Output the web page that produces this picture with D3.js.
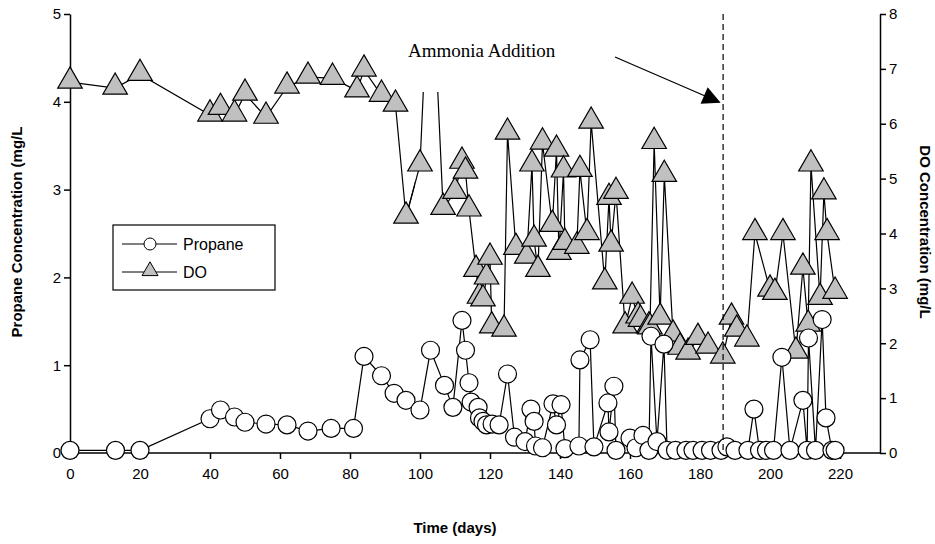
<!DOCTYPE html>
<html><head><meta charset="utf-8">
<script src="https://cdn.jsdelivr.net/npm/d3@7"></script>
<style>body{margin:0;background:#fff}</style></head>
<body><svg id="c" width="935" height="544"></svg>
<script>
const propaneDays = [0,13,20,40,43,47,50,56,62,68,74.6,81,84,89,92.6,96,100,103,107,109.4,112,113,114,114.6,116.6,117,118,119,120.6,122.6,125,127,130,131.7,132.6,133,135,138,139,140.3,141.4,145.4,145.7,148.6,149.7,153.7,154,155.4,156,160,161.7,163.7,165.4,166,167.7,169.7,170.6,173,176,178,180.6,183,186,187.7,190,193.7,195.4,197,199,201,203.4,205.7,209.4,210.6,211,213,214.9,216,217.7,218.6];
const propaneVals = [0.03,0.03,0.03,0.39,0.49,0.41,0.35,0.33,0.32,0.25,0.28,0.28,1.1,0.88,0.68,0.6,0.49,1.17,0.77,0.52,1.51,1.17,0.8,0.58,0.52,0.4,0.36,0.32,0.33,0.32,0.9,0.18,0.13,0.5,0.36,0.08,0.06,0.56,0.32,0.55,0.05,0.08,1.06,1.29,0.07,0.57,0.24,0.76,0.03,0.17,0.06,0.2,0.03,1.33,0.13,1.24,0.03,0.03,0.03,0.03,0.03,0.03,0.03,0.07,0.03,0.03,0.5,0.03,0.03,0.03,1.09,0.03,0.6,0.03,1.31,0.03,1.52,0.4,0.03,0.03];
const doDays = [0,12.9,20,40,43,47,50,56,62,68,75,82,84,89,93,96,100,103,106.6,110,112,113,114,116,117,118,119,120,120.5,124,125,127.4,130.5,132,132.6,133.7,135,137.8,139,139.7,141,141.4,144.8,145.7,147.7,148.9,152.8,154,154.6,156,158.6,160.6,162.3,163,165.4,165.7,166.9,168.6,169.8,172.3,174.3,176.6,179.4,182.3,186.5,189,190.5,193.4,195.7,200,201.4,203.7,207.4,209.4,210.9,211.7,214.3,215.4,216.3,218.6];
const doVals = [6.76,6.65,6.9,6.16,6.28,6.16,6.54,6.12,6.67,6.85,6.83,6.6,6.98,6.52,6.34,4.3,5.25,9.5,4.46,4.75,5.3,5.12,4.43,3.33,2.84,2.79,3.19,3.55,2.3,2.24,5.83,3.73,3.57,5.25,3.88,3.33,5.65,4.15,5.52,3.64,5.14,3.82,3.75,5.15,4.0,6.03,3.1,4.64,3.79,4.75,2.3,2.84,2.48,2.42,2.3,2.28,5.66,2.46,5.06,2.15,1.91,1.82,2.09,1.93,1.75,2.46,2.24,2.06,4.0,2.97,2.91,4.0,1.84,3.37,2.33,5.25,2.82,4.74,4.0,2.93];
const xTicks = d3.range(0, 221, 20);
const additionDay = 186.6;

const svg = d3.select("#c");
const m = {l:70, r:880, t:14, b:453};
const x = d3.scaleLinear().domain([0,220]).range([m.l, m.l+770]);
const yL = d3.scaleLinear().domain([0,5]).range([m.b, m.t]);
const yR = d3.scaleLinear().domain([0,8]).range([m.b, m.t]);
const font = "Arial, 'Liberation Sans', sans-serif";

const gx = svg.append("g").attr("transform",`translate(0,${m.b})`)
  .call(d3.axisBottom(x).tickValues(xTicks).tickSize(6).tickSizeOuter(0));
gx.select(".domain").attr("d", `M${m.l},0H${m.r}`);
const gl = svg.append("g").attr("transform",`translate(${m.l},0)`).call(d3.axisLeft(yL).ticks(5).tickSize(6).tickSizeOuter(0));
const gr = svg.append("g").attr("transform",`translate(${m.r},0)`).call(d3.axisRight(yR).ticks(8).tickSize(6).tickSizeOuter(0));
svg.selectAll(".tick text").attr("font-family",font).attr("font-size",15).attr("fill","#000");
gx.selectAll(".tick text").attr("dy","1.1em");
svg.selectAll(".domain,.tick line").attr("stroke","#000").attr("stroke-width",1.5);

// DO line is cut off above ~y=92 in the original
svg.append("clipPath").attr("id","pc").append("rect").attr("x",0).attr("y",92).attr("width",935).attr("height",400);
svg.append("clipPath").attr("id","pc2").append("rect").attr("x",0).attr("y",0).attr("width",415).attr("height",544);
const plot = svg.append("g");

const doData = doDays.map((d,i)=>[d,doVals[i]]);
const prData = propaneDays.map((d,i)=>[d,propaneVals[i]]);
const doLine = d3.line().x(d=>x(d[0])).y(d=>yR(d[1]));
// draw the part before the spike unclipped, the rest clipped at top
plot.append("path").datum(doData).attr("fill","none").attr("stroke","#000").attr("stroke-width",1.2)
  .attr("clip-path","url(#pc2)").attr("d", doLine);
plot.append("path").datum(doData.slice(15)).attr("fill","none").attr("stroke","#000").attr("stroke-width",1.2)
  .attr("clip-path","url(#pc)").attr("d", doLine);
plot.append("path").datum(prData).attr("fill","none").attr("stroke","#000").attr("stroke-width",1.2)
  .attr("d", d3.line().x(d=>x(d[0])).y(d=>yL(d[1])));
const tri = d3.symbol().type(d3.symbolTriangle).size(260);
plot.selectAll(".t").data(doData.filter(d=>d[1]<=8)).join("path").attr("d",tri)
  .attr("transform",d=>`translate(${x(d[0])},${yR(d[1])-1})`)
  .attr("fill","#c0c0c0").attr("stroke","#000").attr("stroke-width",1.2);
plot.selectAll(".c").data(prData).join("circle").attr("cx",d=>x(d[0])).attr("cy",d=>yL(d[1]))
  .attr("r",9).attr("fill","#fff").attr("stroke","#000").attr("stroke-width",1.2);

svg.append("line").attr("x1",x(additionDay)).attr("x2",x(additionDay)).attr("y1",m.t).attr("y2",m.b)
  .attr("stroke","#000").attr("stroke-width",1.2).attr("stroke-dasharray","6,4");
svg.append("defs").append("marker").attr("id","ah").attr("viewBox","0 0 10 10").attr("refX",9).attr("refY",5)
  .attr("markerUnits","userSpaceOnUse").attr("markerWidth",22).attr("markerHeight",18).attr("orient","auto")
  .append("path").attr("d","M0,0L10,5L0,10z").attr("fill","#000");
svg.append("line").attr("x1",615).attr("y1",57).attr("x2",719).attr("y2",102).attr("stroke","#000").attr("stroke-width",1.3).attr("marker-end","url(#ah)");
svg.append("text").attr("x",408).attr("y",57).text("Ammonia Addition")
  .attr("font-family","'Liberation Serif','Times New Roman',serif").attr("font-size",19);

// legend
const lg = svg.append("g");
lg.append("rect").attr("x",113).attr("y",225).attr("width",162).attr("height",65).attr("fill","#fff").attr("stroke","#000").attr("stroke-width",1.2);
lg.append("line").attr("x1",122).attr("x2",177).attr("y1",244).attr("y2",244).attr("stroke","#000");
lg.append("circle").attr("cx",150).attr("cy",244).attr("r",6).attr("fill","#fff").attr("stroke","#000");
lg.append("text").attr("x",183).attr("y",250).text("Propane").attr("font-family",font).attr("font-size",16);
lg.append("line").attr("x1",122).attr("x2",177).attr("y1",272).attr("y2",272).attr("stroke","#000");
lg.append("path").attr("d",d3.symbol().type(d3.symbolTriangle).size(110)).attr("transform","translate(150,271)").attr("fill","#c0c0c0").attr("stroke","#000");
lg.append("text").attr("x",183).attr("y",278).text("DO").attr("font-family",font).attr("font-size",16);

svg.append("text").attr("x",455).attr("y",533).attr("text-anchor","middle").text("Time (days)")
  .attr("font-family",font).attr("font-weight","bold").attr("font-size",15);
svg.append("text").attr("transform","translate(22,232) rotate(-90)").attr("text-anchor","middle").text("Propane Concentration (mg/L")
  .attr("font-family",font).attr("font-weight","bold").attr("font-size",15);
svg.append("text").attr("transform","translate(920,232) rotate(90)").attr("text-anchor","middle").text("DO Concentration (mg/L")
  .attr("font-family",font).attr("font-weight","bold").attr("font-size",15);
</script></body></html>
